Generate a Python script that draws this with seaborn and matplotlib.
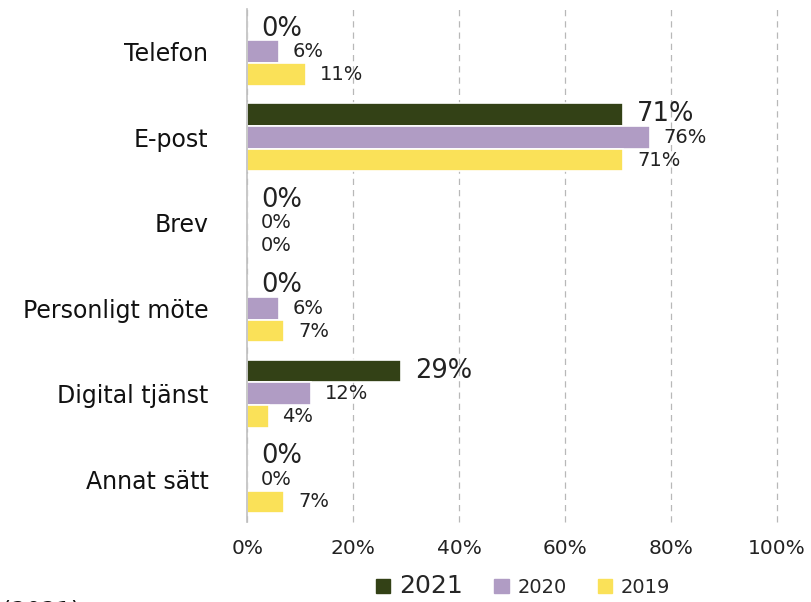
import matplotlib
matplotlib.use("Agg")
import matplotlib.pyplot as plt
import pandas as pd
import seaborn as sns

categories = ["Telefon", "E-post", "Brev", "Personligt möte", "Digital tjänst", "Annat sätt"]
years = ["2021", "2020", "2019"]
values_2021 = [0, 71, 0, 0, 29, 0]
values_2020 = [6, 76, 0, 6, 12, 0]
values_2019 = [11, 71, 0, 7, 4, 7]
colors = ["#334116", "#b09cc4", "#fae158"]


def build_frame():
    rows = []
    for year, vals in zip(years, [values_2021, values_2020, values_2019]):
        for cat, v in zip(categories, vals):
            rows.append([cat, year, v])
    return pd.DataFrame(rows, columns=["Kanal", "År", "Andel"])


df = build_frame()

sns.set_style("white")
plt.rcParams["font.family"] = ["DejaVu Sans"]

fig = plt.figure(figsize=(8.11, 6.02), dpi=100)
ax = fig.add_axes([0.305, 0.133, 0.653, 0.852])

sns.barplot(data=df, y="Kanal", x="Andel", hue="År", hue_order=years, order=categories,
            palette=colors, orient="h", width=0.8, edgecolor="white", linewidth=1.2,
            saturation=1, ax=ax, legend=False)

# value labels, 2021 a bit larger
for i, container in enumerate(ax.containers):
    size = 18.5 if i == 0 else 14
    ax.bar_label(container, labels=[f"{v:.0f}%" for v in container.datavalues],
                 padding=10, fontsize=size, color="#222222")

ax.set_xlim(0, 100)
ax.set_xticks(range(0, 101, 20))
ax.set_xticklabels([f"{t}%" for t in range(0, 101, 20)], fontsize=14.5, color="#222222")
ax.tick_params(axis="y", labelsize=17, length=0, pad=28, labelcolor="#111111")
ax.tick_params(axis="x", length=0, pad=12)
ax.set_xlabel("")
ax.set_ylabel("")
ax.grid(True, axis="x", linestyle=(0, (5, 4)), color="#b8b8b8", linewidth=0.9)
for gl in ax.get_xgridlines():
    gl.set_clip_on(False)
ax.set_axisbelow(True)
for side in ["top", "right", "bottom"]:
    ax.spines[side].set_visible(False)
ax.spines["left"].set_color("#c0c0c0")
ax.spines["left"].set_linewidth(1.2)

handles = [plt.Rectangle((0, 0), 1, 1, color=c) for c in colors]
leg = fig.legend(handles, years, loc="center", bbox_to_anchor=(0.645, 0.027), ncol=3,
                 frameon=False, handlelength=0.75, handleheight=0.75, columnspacing=1.6,
                 handletextpad=0.45, fontsize=14)
leg.get_texts()[0].set_fontsize(18)

fig.text(0.003, -0.016, "(2021)", fontsize=17, ha="left", va="center", color="#111111")

fig.savefig("out.png", dpi=100)
